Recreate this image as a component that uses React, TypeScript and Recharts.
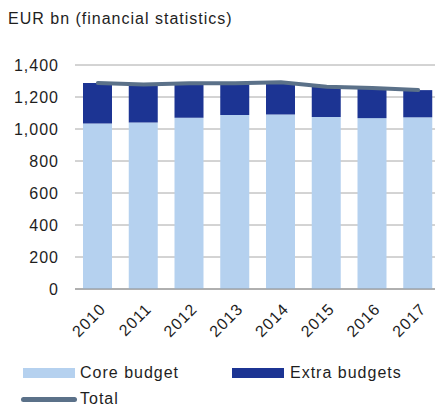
import React from 'react'
import { ComposedChart, Bar, Line, XAxis, YAxis, CartesianGrid } from 'recharts'

const years = ['2010', '2011', '2012', '2013', '2014', '2015', '2016', '2017']
const coreBudget = [1035, 1040, 1071, 1087, 1090, 1075, 1068, 1073]
const extraBudgets = [252, 238, 215, 199, 202, 189, 188, 170]
const total = [1287, 1278, 1286, 1286, 1292, 1264, 1256, 1243]
const yTicks = [0, 200, 400, 600, 800, 1000, 1200, 1400]

const data = years.map((year, i) => ({
  year,
  core: coreBudget[i],
  extra: extraBudgets[i],
  total: total[i],
}))

const FONT = '"Liberation Sans", Arial, sans-serif'
const LIGHT = '#b5d1ef'
const DARK = '#1c3493'
const LINE = '#5b7189'
const TEXT = '#1e1e1e'

const fmt = (v: number) => v.toLocaleString('en-US')

function YTick({ x, y, payload }: any) {
  return (
    <text x={x} y={y} dy="0.36em" textAnchor="end" fontSize={16} fill={TEXT}
      fontFamily={FONT} letterSpacing={1}>
      {fmt(payload.value)}
    </text>
  )
}

// rotated year labels
function XTick({ x, y, payload }: any) {
  const ax = x + 1
  const ay = y + 5
  return (
    <text x={ax} y={ay} dy="0.7em" textAnchor="end" fontSize={16} fill={TEXT}
      fontFamily={FONT} letterSpacing={1} transform={`rotate(-45, ${ax}, ${ay})`}>
      {payload.value}
    </text>
  )
}

function LegendBox() {
  const txt: React.CSSProperties = {
    position: 'absolute', fontSize: 16, lineHeight: '18px', letterSpacing: 1,
    color: TEXT, fontFamily: FONT, whiteSpace: 'nowrap',
  }
  return (
    <>
      <div style={{ position: 'absolute', left: 23, top: 368, width: 52, height: 10, background: LIGHT }} />
      <div style={{ ...txt, left: 80, top: 364 }}>Core budget</div>
      <div style={{ position: 'absolute', left: 232, top: 368, width: 52, height: 10, background: DARK }} />
      <div style={{ ...txt, left: 290, top: 364 }}>Extra budgets</div>
      <div style={{ position: 'absolute', left: 21, top: 397, width: 56, height: 5, borderRadius: 3, background: LINE }} />
      <div style={{ ...txt, left: 80, top: 390 }}>Total</div>
    </>
  )
}

export default function App() {
  return (
    <div style={{ position: 'absolute', left: 0, top: 0, width: 435, height: 407, overflow: 'hidden', background: '#fff' }}>
      <div style={{ position: 'absolute', left: 8, top: 10, fontSize: 16, lineHeight: '18px', letterSpacing: 1, color: TEXT, fontFamily: FONT, whiteSpace: 'nowrap' }}>
        EUR bn (financial statistics)
      </div>
      <ComposedChart width={441} height={355} data={data}
        margin={{ top: 65, right: 0, left: 10, bottom: 0 }}>
        <CartesianGrid vertical={false} stroke="#a8a8a8" />
        <XAxis dataKey="year" height={66} tickLine={false} stroke="#8c8c8c" tick={<XTick />} interval={0} />
        <YAxis width={65} domain={[0, 1400]} ticks={yTicks} axisLine={false} tickLine={false}
          tickSize={0} tickMargin={16} tick={<YTick />} />
        <Bar dataKey="core" stackId="a" fill={LIGHT} barSize={29} isAnimationActive={false} />
        <Bar dataKey="extra" stackId="a" fill={DARK} barSize={29} isAnimationActive={false} />
        <Line type="linear" dataKey="total" stroke={LINE} strokeWidth={4} strokeLinecap="round"
          dot={false} activeDot={false} isAnimationActive={false} />
      </ComposedChart>
      <LegendBox />
    </div>
  )
}
